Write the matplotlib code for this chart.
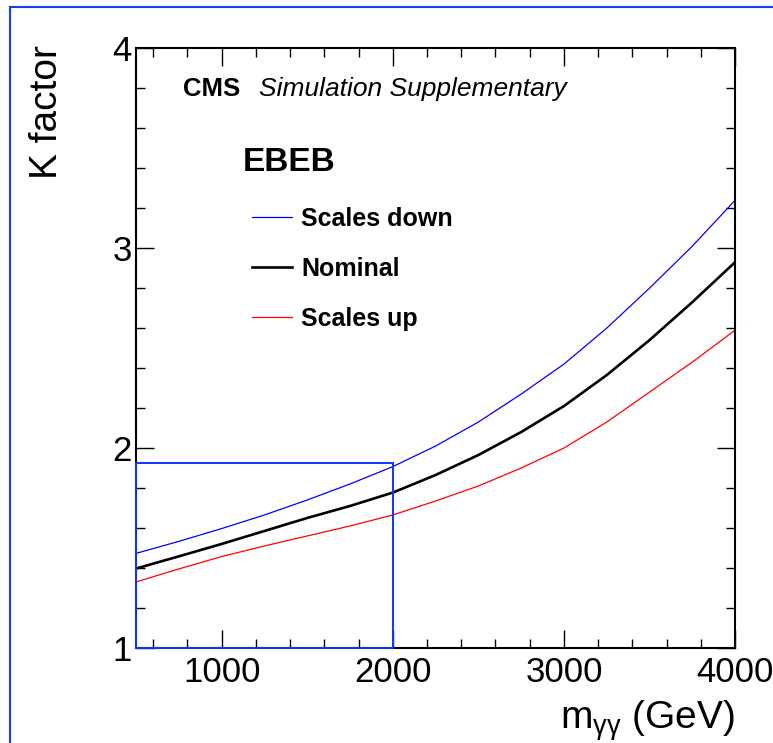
import matplotlib
matplotlib.use('Agg')
from matplotlib import pyplot as plt
from matplotlib.patches import Rectangle
from matplotlib.lines import Line2D
from matplotlib.ticker import MultipleLocator

# K factor vs diphoton mass
mass = [500, 750, 1000, 1250, 1500, 1750, 2000, 2250, 2500, 2750, 3000, 3250, 3500, 3750, 4000]
k_down = [1.473, 1.533, 1.597, 1.665, 1.740, 1.820, 1.907, 2.010, 2.130, 2.270, 2.420, 2.600, 2.800, 3.010, 3.240]
k_nominal = [1.397, 1.458, 1.520, 1.585, 1.650, 1.710, 1.777, 1.865, 1.965, 2.080, 2.210, 2.365, 2.540, 2.730, 2.930]
k_up = [1.330, 1.395, 1.457, 1.510, 1.560, 1.610, 1.665, 1.735, 1.810, 1.900, 2.000, 2.130, 2.280, 2.430, 2.590]

# zoom box drawn on the plot
box_x = [500, 2000]
box_y = [1.0, 1.923]

plt.rc('font', family=['Liberation Sans', 'DejaVu Sans'])
plt.rc('mathtext', fontset='custom', rm='Liberation Sans', it='Liberation Sans:italic')

fig = plt.figure(figsize=(7.73, 7.43), dpi=100)
ax = fig.add_axes([0.176, 0.128, 0.775, 0.807])

ax.plot(mass, k_down, color='#0000ff', lw=0.9, label='Scales down')
ax.plot(mass, k_nominal, color='black', lw=1.9, label='Nominal')
ax.plot(mass, k_up, color='#ff0000', lw=0.9, label='Scales up')

ax.add_patch(Rectangle((box_x[0], box_y[0]), box_x[1] - box_x[0], box_y[1] - box_y[0],
                       fill=False, ec='#1133ff', lw=1.4, zorder=5, clip_on=False))

ax.set_xlim(500, 4000)
ax.set_ylim(1, 4)
ax.xaxis.set_major_locator(MultipleLocator(1000))
ax.xaxis.set_minor_locator(MultipleLocator(200))
ax.yaxis.set_major_locator(MultipleLocator(1))
ax.yaxis.set_minor_locator(MultipleLocator(0.2))
ax.tick_params(which='both', direction='in', top=True, right=True, width=1.0)
ax.tick_params(which='major', length=13)
ax.tick_params(which='minor', length=6.5)
ax.tick_params(axis='x', labelsize=25, pad=6)
ax.tick_params(axis='y', labelsize=25, pad=3)
for sp in ax.spines.values():
    sp.set_linewidth(1.5)

ax.text(1.0, -0.135, r'm$_{\mathrm{γγ}}$ (GeV)', transform=ax.transAxes,
        ha='right', va='baseline', fontsize=28)
ax.text(-0.148, 1.005, 'K factor', transform=ax.transAxes, rotation=90,
        ha='center', va='top', fontsize=28)

ax.text(0.0785, 0.92, 'CMS', transform=ax.transAxes, fontsize=18.5,
        fontweight='bold', va='baseline')
ax.text(0.205, 0.92, 'Simulation Supplementary', transform=ax.transAxes,
        fontsize=19, style='italic', va='baseline')
ax.text(0.1786, 0.795, 'EBEB', transform=ax.transAxes, fontsize=24,
        fontweight='bold', va='baseline')

ax.legend(loc='upper left', bbox_to_anchor=(0.194, 0.735), frameon=False,
          prop={'size': 18, 'weight': 'bold'}, handlelength=1.6,
          handletextpad=0.36, labelspacing=1.04, borderpad=0, borderaxespad=0)

# blue frame around the figure edge
fig.add_artist(Line2D([0.0129, 0.0129], [0.0, 0.9906], color='#1a3cff', lw=1.5))
fig.add_artist(Line2D([0.0129, 1.0], [0.9906, 0.9906], color='#1a3cff', lw=1.5))

plt.savefig('out.png', dpi=100)
